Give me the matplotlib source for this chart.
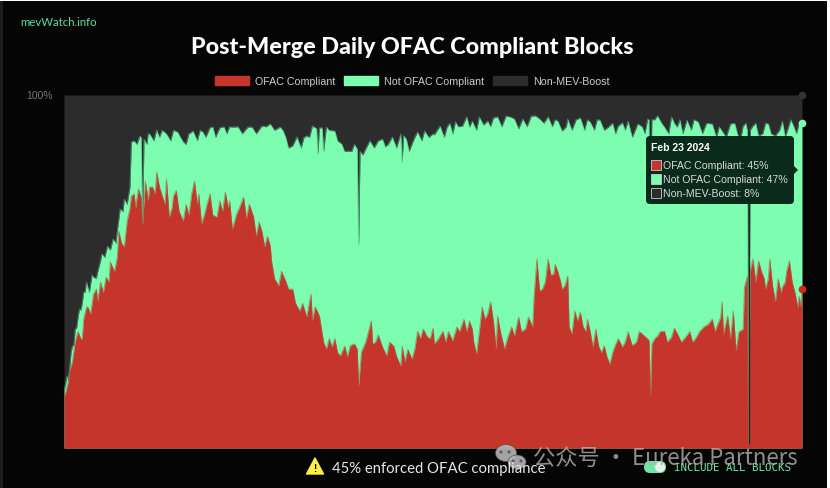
import matplotlib
matplotlib.use('Agg')
import matplotlib.pyplot as plt
from matplotlib.patches import Rectangle, FancyBboxPatch, Polygon, Ellipse, Patch

# days since the merge (2022-09-15 .. 2024-02-23), percent of daily blocks
redDays = [0, 3, 6, 8, 12, 14, 17, 21, 24, 26, 30, 33, 38, 39, 45, 48, 53, 56, 58, 61, 66, 70, 73, 75, 78, 85, 93, 98,
	102, 109, 115, 120, 123, 128, 132, 135, 141, 147, 148, 153, 155, 158, 160, 163, 168, 173, 176, 177, 182, 185,
	191, 197, 200, 202, 207, 209, 210, 212, 219, 220, 227, 230, 235, 240, 241, 243, 248, 252, 256, 259, 263, 264,
	270, 277, 280, 285, 291, 294, 298, 300, 304, 308, 309, 314, 319, 321, 324, 329, 331, 334, 335, 337, 339, 343,
	345, 349, 352, 355, 359, 360, 362, 364, 368, 370, 373, 377, 379, 381, 387, 389, 393, 398, 402, 408, 416, 417,
	418, 419, 423, 428, 433, 438, 443, 450, 456, 462, 466, 469, 470, 473, 475, 477, 479, 481, 484, 485, 487, 488,
	489, 491, 493, 497, 500, 503, 507, 509, 512, 517, 519, 523, 526]
redPct = [14.7, 18.7, 24.4, 30.3, 30.9, 36.5, 39.9, 43.6, 41.6, 47.0, 48.4, 52.7, 54.1, 61.5, 64.3, 71.4, 73.4, 63.5,
	75.6, 73.9, 78.2, 71.4, 76.2, 65.4, 71.4, 64.3, 75.6, 63.5, 69.1, 65.4, 72.5, 62.0, 66.3, 71.1, 69.1, 65.7,
	61.5, 57.2, 52.7, 45.9, 50.1, 47.3, 45.0, 45.0, 38.8, 37.1, 43.6, 36.0, 37.4, 30.0, 28.6, 26.1, 28.9, 25.8,
	29.5, 28.0, 17.6, 27.2, 36.0, 29.5, 28.6, 26.1, 28.9, 23.2, 28.9, 24.4, 25.2, 33.1, 33.7, 31.4, 34.0, 29.5,
	33.1, 30.3, 34.3, 36.5, 33.7, 26.6, 39.9, 36.5, 41.4, 28.0, 37.4, 28.0, 34.3, 31.7, 37.1, 33.7, 37.1, 34.3,
	42.8, 53.5, 44.5, 47.0, 53.5, 49.3, 49.9, 45.0, 48.7, 34.3, 32.3, 38.8, 38.5, 34.3, 36.5, 28.6, 33.7, 28.9,
	25.8, 23.8, 29.2, 28.6, 32.9, 30.0, 30.9, 30.5, 14.4, 29.5, 31.7, 33.1, 31.4, 31.7, 31.4, 30.9, 34.3, 36.5,
	35.1, 41.4, 32.3, 37.4, 30.9, 38.8, 27.5, 32.9, 33.7, 45.6, 48.7, 1.0, 50.0, 53.5, 47.0, 50.1, 45.0, 53.5,
	41.4, 47.9, 45.6, 53.0, 47.0, 39.9, 44.8]

# smaller wiggles read between the main turning points
redExtraDays = [1, 4, 10, 13, 16, 19, 23, 28, 32, 36, 41, 43, 47, 50, 51, 55, 60, 63, 65, 68, 72, 77, 80, 82, 87, 89, 91,
	95, 96, 100, 104, 106, 111, 113, 117, 118, 125, 130, 137, 139, 143, 145, 150, 165, 170, 179, 187, 189, 193, 195,
	204, 215, 217, 222, 224, 232, 237, 245, 250, 254, 261, 267, 272, 274, 282, 287, 289, 292, 296, 302, 306, 311,
	316, 326, 341, 347, 350, 354, 357, 366, 372, 375, 383, 385, 391, 395, 400, 405, 410, 413, 421, 425, 430, 435,
	440, 446, 448, 453, 459, 464, 468, 495, 499, 502, 505, 511, 514, 515, 521, 524, 525]
redExtraPct = [15.5, 22, 33, 31, 40, 38, 45, 44, 47, 50, 58, 57, 68, 72, 68, 71, 70, 74, 72, 74, 69, 68, 73, 67, 69, 66, 72,
	69, 72, 66, 72, 66, 70, 67, 68, 70, 68, 65, 60, 64, 57, 60, 48, 41, 41, 40, 28, 31, 31, 27,
	29, 30, 33, 30, 32, 30, 26, 28, 28, 31, 31, 31, 30, 33, 33, 33, 36, 30, 33, 38, 36, 33,
	31, 33, 45, 49, 52, 47, 46, 36, 33, 33, 27, 29, 27, 31, 30, 29, 33, 32, 31, 33, 30, 34,
	30, 33, 30, 33, 35, 33, 37, 53, 48, 48, 46, 44, 47, 50, 44, 43, 40]

# top of the green band, i.e. all MEV-Boost blocks
topDays = [0, 2, 4, 6, 8, 11, 14, 16, 19, 21, 24, 27, 31, 35, 38, 40, 43, 47, 48, 54, 55, 56, 57, 61, 66, 73, 81, 85,
	92, 99, 104, 111, 120, 131, 134, 141, 147, 154, 158, 163, 166, 173, 177, 180, 181, 182, 184, 185, 187, 193,
	198, 202, 209, 210, 211, 215, 218, 227, 229, 234, 240, 241, 242, 244, 248, 252, 257, 263, 264, 268, 273, 279,
	284, 287, 289, 291, 296, 299, 302, 309, 318, 321, 324, 327, 336, 339, 345, 352, 355, 359, 368, 375, 382, 388,
	395, 398, 402, 409, 416, 417, 418, 419, 423, 428, 433, 437, 444, 452, 462, 469, 475, 480, 484, 487, 488, 489,
	491, 495, 502, 507, 512, 516, 520, 525, 526]
topPct = [16.4, 20.4, 22.4, 28.9, 33.7, 39.4, 44.2, 47.0, 46.5, 48.4, 49.9, 55.0, 57.2, 59.2, 61.5, 67.7, 70.5, 73.9,
	86.7, 88.4, 88.0, 63.5, 87.5, 89.0, 90.1, 89.0, 89.5, 86.7, 89.8, 89.5, 90.7, 90.7, 90.9, 90.9, 90.9, 91.2,
	91.8, 90.9, 88.1, 85.6, 88.1, 88.4, 91.2, 90.5, 83.3, 90.7, 90.7, 84.1, 90.9, 89.8, 86.1, 84.1, 84.7, 57.5,
	84.0, 84.7, 87.0, 87.5, 85.3, 88.1, 89.0, 81.0, 88.5, 87.5, 86.1, 89.5, 89.8, 89.0, 88.7, 91.2, 90.9, 92.4,
	91.2, 93.8, 90.9, 92.6, 93.8, 91.5, 92.6, 93.8, 93.8, 93.2, 90.4, 93.2, 94.1, 93.2, 93.8, 92.6, 89.8, 93.2,
	93.5, 92.4, 92.9, 90.9, 91.2, 92.1, 92.6, 91.8, 93.2, 93.0, 69.7, 93.0, 94.1, 90.9, 93.8, 90.9, 92.9, 92.4,
	91.8, 89.8, 91.8, 89.0, 91.2, 90.0, 1.0, 90.0, 91.2, 88.4, 91.8, 88.4, 92.6, 90.4, 91.2, 91.5, 91.8]

topExtraDays = [1, 3, 5, 7, 9, 10, 12, 13, 15, 18, 20, 23, 26, 29, 33, 37, 42, 45, 50, 52, 59, 60, 64, 68, 70, 76, 78, 83,
	87, 89, 95, 97, 101, 106, 108, 114, 116, 118, 124, 127, 137, 144, 150, 156, 160, 169, 171, 175, 189, 195,
	200, 205, 207, 213, 221, 224, 231, 237, 246, 250, 255, 260, 266, 271, 275, 277, 281, 294, 304, 306, 312, 315,
	330, 333, 342, 348, 350, 358, 362, 365, 371, 373, 378, 380, 385, 391, 393, 400, 405, 412, 414, 421, 426, 431,
	435, 439, 441, 447, 449, 455, 458, 465, 467, 472, 478, 482, 486, 493, 498, 500, 504, 510, 514, 518, 522, 524]
topExtraPct = [18, 19, 27, 29, 34, 37, 39, 41, 44, 44, 49, 48, 53, 54, 56, 58, 67, 69, 87, 86, 86, 89, 87, 88, 90, 87, 90, 88,
	86, 89, 87, 90, 88, 91, 88, 91, 89, 91, 91, 89, 89, 91, 90, 90, 85, 85, 88, 88, 90, 87,
	84, 84, 86, 83, 85, 87, 86, 85, 84, 88, 87, 88, 90, 88, 92, 89, 91, 90, 91, 93.5, 91, 94,
	91, 94, 92, 91, 93, 91, 90, 93, 90, 93, 90, 93, 90, 92, 89, 90, 88, 91, 89, 93, 92, 89,
	92, 93, 89, 90, 93, 89, 92, 88, 91, 88, 92, 87, 92, 92, 89, 92, 89, 90, 88, 93, 89, 92]

# days where the dark band nearly reaches down: day, lowest percent, highest percent
gapDays = [418, 488]
gapLow = [69.7, 1.0]
gapHigh = [93.0, 90.0]

legendLabels = ["OFAC Compliant", "Not OFAC Compliant", "Non-MEV-Boost"]
tooltipRows = ["OFAC Compliant: 45%", "Not OFAC Compliant: 47%", "Non-MEV-Boost: 8%"]

red = "#c5352b"
green = "#7cfdb0"
grey = "#2c2c2c"
black = "#050505"
colors = [red, green, grey]

plt.rcParams['font.family'] = ['Liberation Sans', 'DejaVu Sans']

fig = plt.figure(figsize = (8.3, 4.89), dpi = 100, facecolor = "white")

# overlay in picture pixels, for page furniture only
back = fig.add_axes([0, 0, 1, 1], zorder = 0)
back.set_xlim(0, 830)
back.set_ylim(489, 0)
back.axis("off")
back.add_patch(Rectangle((0, 2), 827, 487, color = black, lw = 0))
back.add_patch(Rectangle((0, 2), 2.5, 487, color = "#1b201f", lw = 0))

redSeries = sorted(zip(redDays + redExtraDays, redPct + redExtraPct))
topSeries = sorted(zip(topDays + topExtraDays, topPct + topExtraPct))
redX, redY = zip(*redSeries)
topX, topY = zip(*topSeries)

ax = fig.add_axes([64 / 830, 1 - 449 / 489, 738 / 830, 353 / 489], zorder = 1)
ax.fill_between(topX, topY, 100, color = grey, lw = 0)
ax.fill_between(topX, 0, topY, color = green, lw = 0)
ax.fill_between(redX, 0, redY, color = red, lw = 0)
# the source is a blurry screenshot, soften the band edges a bit
ax.plot(topX, topY, color = "#55b585", lw = 0.7, alpha = 0.6)
ax.plot(redX, redY, color = "#a8603f", lw = 0.7, alpha = 0.6)
ax.vlines(gapDays, gapLow, gapHigh, color = "#1c2a24", lw = 1.0)
ax.set_xlim(0, 526)
ax.set_ylim(0, 100)
ax.axis("off")

# hover markers on the last day
ax.plot([526], [45], "o", color = "#d8261c", ms = 4.5, clip_on = False, zorder = 5)
ax.plot([526], [92], "o", color = green, ms = 4.5, clip_on = False, zorder = 5)
ax.plot([526], [100], "o", color = "#333333", ms = 4.5, clip_on = False, zorder = 5)

over = fig.add_axes([0, 0, 1, 1], zorder = 2)
over.set_xlim(0, 830)
over.set_ylim(489, 0)
over.axis("off")
over.patch.set_alpha(0)

over.text(20, 22, "mevWatch.info", color = "#5fdc9c", fontsize = 8.2, family = "Lato", va = "center")
over.text(412, 47, "Post-Merge Daily OFAC Compliant Blocks", color = "white", fontsize = 16.8, family = "Lato", weight = "black", ha = "center", va = "center")
over.text(53, 96, "100%", color = "#777777", fontsize = 7.5, ha = "right", va = "center")

handles = [Patch(color = c, label = l) for c, l in zip(colors, legendLabels)]
over.legend(handles = handles, loc = "center", bbox_to_anchor = (412 / 830, 1 - 82 / 489), bbox_transform = fig.transFigure,
	ncol = 3, frameon = False, fontsize = 7.7, labelcolor = "#cccccc", handlelength = 3.2, handleheight = 1.0,
	handletextpad = 0.55, columnspacing = 0.8, borderpad = 0)

# tooltip
over.add_patch(FancyBboxPatch((649, 140), 142, 62, boxstyle = "round,pad=3,rounding_size=4", fc = "#0a2b1b", ec = "none"))
over.add_patch(Polygon([(794, 167), (798, 171), (794, 175)], closed = True, fc = "#0a2b1b", ec = "none"))
over.text(651, 148, "Feb 23 2024", color = "white", fontsize = 7.5, weight = "bold", va = "center")
for row, (label, color, y) in enumerate(zip(tooltipRows, colors, [166, 180, 194])):
	over.add_patch(Rectangle((651, y - 5), 10, 10, fc = color, ec = "#cccccc", lw = 0.6))
	over.text(663, y, label, color = "#d8d8d8", fontsize = 7.6, va = "center")

# footer
over.add_patch(Polygon([(315, 459), (323.5, 475), (306.5, 475)], closed = True, fc = "#ffee44", ec = "#ffee44", lw = 1, joinstyle = "round"))
over.text(315, 468.5, "!", color = "black", fontsize = 7, weight = "bold", ha = "center", va = "center")
over.text(332, 468.5, "45% enforced OFAC compliance", color = "#e6e6e6", fontsize = 10.7, family = "Lato", va = "center")

over.add_patch(FancyBboxPatch((644, 462), 22, 12, boxstyle = "round,pad=0,rounding_size=6", fc = "#6fe8a2", ec = "none"))
over.add_patch(Ellipse((660, 468), 10, 10, fc = "#eeeeee", ec = "none"))
over.text(674, 468, "INCLUDE ALL BLOCKS", color = "#6fe8a2", fontsize = 7.8, family = "DejaVu Sans Mono", va = "center")

# wechat watermark
for xc, yc, w, h in [(506, 454, 21, 17), (517, 463, 18, 14)]:
	over.add_patch(Ellipse((xc, yc), w, h, fc = "#b5b5b5", ec = "#4a4a4a", lw = 0.5, alpha = 0.9))
for xc, yc in [(501, 453), (509, 453), (513, 462), (521, 462)]:
	over.add_patch(Ellipse((xc, yc), 3, 3, fc = "#5a5a5a", ec = "none"))
over.text(533, 458, "公众号 · Eureka Partners", color = "#b0b0b0", alpha = 0.8, fontsize = 16,
	family = ["Noto Sans CJK SC", "DejaVu Sans"], va = "center")

plt.savefig("out.png", dpi = 100, facecolor = fig.get_facecolor())
plt.close()
